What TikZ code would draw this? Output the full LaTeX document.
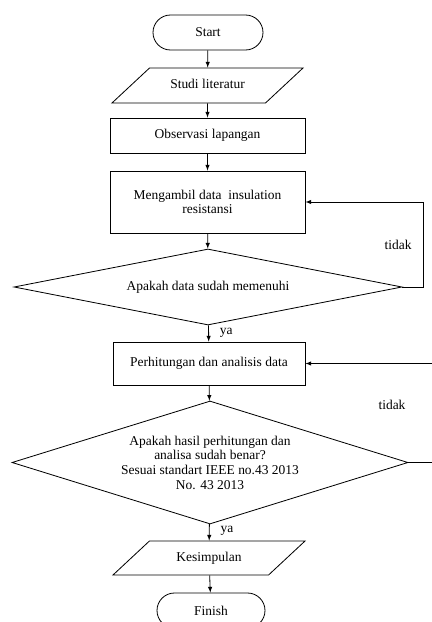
\documentclass[tikz,border=0pt]{standalone}
\usepackage{fontspec}
\setmainfont{Liberation Serif}
\usepackage{tikz}
\usetikzlibrary{shapes.geometric}
\usetikzlibrary{shapes.misc}

\tikzset{
    terminal/.style={draw,rounded rectangle,minimum width=3.3cm,minimum height=1.05cm,inner sep=0pt},
    io/.style={draw,trapezium,trapezium left angle=43,trapezium right angle=137,trapezium stretches body,minimum width=5.73cm,text height=8pt,text depth=2.5pt,inner xsep=0pt,inner ysep=0.34cm},
    process/.style={draw,rectangle,minimum width=5.85cm,inner sep=0pt,align=center},
    decision/.style={draw,diamond,inner sep=0pt,align=center},
    flow/.style={->,>=latex}
}

\begin{document}
\begin{tikzpicture}[x=0.03cm,y=-0.03cm,line width=0.7pt,font=\fontsize{11.5}{12.5}\selectfont]
    \useasboundingbox (0,0) rectangle (432,622);
    \clip (0,0) rectangle (432,622);

    \node [terminal] (start) at (208,32.5) {Start};
    \node [io] (studi) at (207.5,85.5) {Studi literatur};
    \node [process,minimum height=1.05cm] (obs) at (207.5,135.5) {Observasi lapangan};
    \node [process,minimum height=1.86cm] (ambil) at (207.5,202) {Mengambil data\ \ insulation\\resistansi};
    \node [decision,shape aspect=5.1,minimum width=11.64cm,minimum height=2.28cm] (cek) at (208,287) {Apakah data sudah memenuhi};
    \node [process,minimum width=5.76cm,minimum height=1.29cm] (hitung) at (209,363.5) {Perhitungan dan analisis data};
    \node [decision,shape aspect=3.22,minimum width=11.88cm,minimum height=3.69cm] (benar) at (210,462.5) {Apakah hasil perhitungan dan\\analisa sudah benar?\\Sesuai standart IEEE no.43 2013\\No. 43 2013};
    \node [io,minimum width=5.76cm,inner ysep=0.325cm] (simpul) at (209,558) {Kesimpulan};
    \node [terminal,minimum width=3.24cm] (finish) at (211,610.5) {Finish};

    \coordinate (r1) at (423,0);
    \coordinate (r2) at (440,0);

    \draw [flow] (start) -- (studi);
    \draw [flow] (studi) -- (obs);
    \draw [flow] (obs) -- (ambil);
    \draw [flow] (ambil) -- (cek);
    \draw [flow] (cek) -- (hitung) node [pos=0.45,right=6pt] (ya1) {ya};
    \draw [flow] (cek.east) -- (cek.east -| r1) |- (ambil.east) node [pos=0.25,left=6pt] (tidak1) {tidak};
    \draw [flow] (hitung) -- (benar);
    \draw [flow] (benar) -- (simpul) node [pos=0.4,right=6pt] (ya2) {ya};
    \draw [flow] (benar.east) -- (benar.east -| r2) |- (hitung.east);
    \node (tidak2) at (392,405) {tidak};
    \draw [flow] (simpul) -- (finish);

\end{tikzpicture}
\end{document}
